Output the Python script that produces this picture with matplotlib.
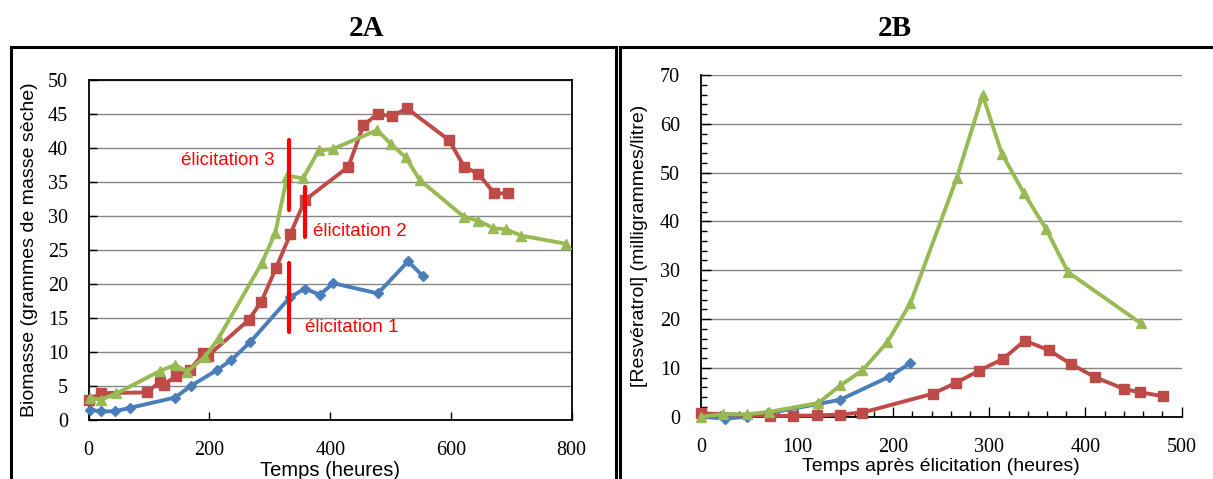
import matplotlib
matplotlib.use("Agg")
import matplotlib.pyplot as plt
from matplotlib import font_manager
from matplotlib.lines import Line2D
from matplotlib.ticker import MultipleLocator

# ---------------- data ----------------
# 2A : biomass (g dry mass) vs time (h)
a_blue_t = [2, 21, 44, 69, 143, 169, 212, 236, 267, 333, 358, 383, 405, 479, 529, 553]
a_blue_v = [1.5, 1.25, 1.3, 1.8, 3.3, 5.0, 7.3, 8.8, 11.4, 18.0, 19.3, 18.4, 20.1, 18.6, 23.3, 21.2]

a_red_t = [0, 21, 96, 118, 124, 144, 168, 190, 197, 265, 286, 310, 334, 358, 430, 455, 479, 502, 527, 597, 622, 645, 672, 694]
a_red_v = [3.0, 3.95, 4.05, 5.6, 5.2, 6.4, 7.4, 9.8, 9.4, 14.7, 17.4, 22.3, 27.3, 32.3, 37.2, 43.3, 45.0, 44.6, 45.8, 41.1, 37.2, 36.2, 33.3, 33.3]

a_green_t = [2, 21, 46, 118, 143, 163, 193, 215, 287, 309, 329, 355, 381, 404, 478, 500, 525, 548, 622, 645, 670, 692, 716, 790]
a_green_v = [3.2, 3.0, 3.9, 7.2, 8.1, 7.1, 9.3, 12.0, 23.1, 27.5, 35.9, 35.5, 39.6, 39.8, 42.6, 40.6, 38.6, 35.3, 29.8, 29.3, 28.2, 28.0, 27.1, 25.9]

elic_t = [332, 358, 332]
elic_lo = [30.9, 26.9, 13.0]
elic_hi = [41.2, 34.3, 23.0]
elic_labels = ["élicitation 3", "élicitation 2", "élicitation 1"]

# 2B : resveratrol (mg/L) vs time after elicitation (h)
b_blue_t = [0, 25, 48, 70, 122, 145, 196, 218]
b_blue_v = [0.0, -0.4, 0.0, 0.7, 2.6, 3.5, 8.2, 11.0]

b_red_t = [0, 72, 96, 121, 145, 168, 241, 265, 289, 314, 337, 362, 385, 410, 440, 457, 481]
b_red_v = [0.7, 0.15, 0.2, 0.25, 0.45, 0.85, 4.7, 6.9, 9.4, 11.8, 15.6, 13.6, 10.8, 8.1, 5.7, 5.0, 4.2]

b_green_t = [0, 23, 48, 71, 122, 145, 168, 194, 218, 266, 293, 313, 336, 359, 382, 458]
b_green_v = [0.0, 0.5, 0.5, 1.0, 2.8, 6.4, 9.5, 15.3, 23.3, 48.8, 65.9, 53.9, 45.8, 38.5, 29.6, 19.1]

# ---------------- style ----------------
BLUE = "#4A7EBB"
RED = "#BE4B48"
GREEN = "#98B954"
GRID = "#868686"

avail = {f.name for f in font_manager.fontManager.ttflist}
SANS = "Liberation Sans Narrow" if "Liberation Sans Narrow" in avail else "Liberation Sans"
SERIF = "Liberation Serif"
LAB = 14

W, H = 1213, 479
fig = plt.figure(figsize=(W / 100, H / 100), dpi=100)


def px_rect(x0, y0, x1, y1):
    return [x0 / W, 1 - y1 / H, (x1 - x0) / W, (y1 - y0) / H]


def style_axes(ax):
    ax.set_axisbelow(True)
    ax.grid(axis="y", color=GRID, lw=1.0)
    for lab in ax.get_xticklabels() + ax.get_yticklabels():
        lab.set_fontfamily(SERIF)
        lab.set_fontsize(14.5)


def series(ax, t, v, color, marker, ms):
    ax.plot(t, v, color=color, lw=2.8, marker=marker, ms=ms, mfc=color, mec=color,
            clip_on=False, zorder=3, solid_joinstyle="round")


# ---------------- 2A ----------------
ax1 = fig.add_axes(px_rect(88.7, 79.7, 571.7, 420))
series(ax1, a_blue_t, a_blue_v, BLUE, "D", 5)
series(ax1, a_red_t, a_red_v, RED, "s", 7)
series(ax1, a_green_t, a_green_v, GREEN, "^", 7)
ax1.set_xlim(0, 800)
ax1.set_ylim(0, 50)
ax1.xaxis.set_major_locator(MultipleLocator(200))
ax1.yaxis.set_major_locator(MultipleLocator(5))
ax1.tick_params(direction="in", length=6, width=1, pad=15)
for s in ax1.spines.values():
    s.set_linewidth(1.3)
style_axes(ax1)
ax1.set_ylabel("Biomasse (grammes de masse sèche)", family=SANS, fontsize=LAB, labelpad=7)
ax1.set_xlabel("Temps (heures)", family=SANS, fontsize=LAB + 0.5, labelpad=1)

for t, lo, hi in zip(elic_t, elic_lo, elic_hi):
    ax1.plot([t, t], [lo, hi], color="#FF0000", lw=3, solid_capstyle="round", zorder=4)
ax1.text(308, 38.1, elic_labels[0], color="#FF0000", family=SANS, fontsize=13.5,
         ha="right", va="center", zorder=5)
ax1.text(372, 27.7, elic_labels[1], color="#FF0000", family=SANS, fontsize=13.5,
         ha="left", va="center", zorder=5)
ax1.text(358, 13.6, elic_labels[2], color="#FF0000", family=SANS, fontsize=13.5,
         ha="left", va="center", zorder=5)

# ---------------- 2B ----------------
ax2 = fig.add_axes(px_rect(701, 75, 1181.5, 416.7))
series(ax2, b_blue_t, b_blue_v, BLUE, "D", 5)
series(ax2, b_red_t, b_red_v, RED, "s", 7)
series(ax2, b_green_t, b_green_v, GREEN, "^", 7)
ax2.set_xlim(0, 500)
ax2.set_ylim(0, 70)
ax2.xaxis.set_major_locator(MultipleLocator(100))
ax2.xaxis.set_minor_locator(MultipleLocator(20))
ax2.yaxis.set_major_locator(MultipleLocator(10))
ax2.yaxis.set_minor_locator(MultipleLocator(2))
ax2.tick_params(which="major", direction="in", length=7, width=1, pad=15)
ax2.tick_params(which="minor", direction="in", length=4, width=1)
ax2.spines["top"].set_visible(False)
ax2.spines["right"].set_visible(False)
for s in ("left", "bottom"):
    ax2.spines[s].set_linewidth(1.3)
style_axes(ax2)
ax2.set_ylabel("[Resvératrol] (milligrammes/litre)", family=SANS, fontsize=LAB, labelpad=9)
ax2.set_xlabel("Temps après élicitation (heures)", family=SANS, fontsize=LAB, labelpad=1)

# ---------------- titles & frames ----------------
fig.text(367 / W, 1 - 28 / H, "2A", family=SERIF, weight="bold", fontsize=21, ha="center", va="center")
fig.text(895 / W, 1 - 28 / H, "2B", family=SERIF, weight="bold", fontsize=21, ha="center", va="center")


def fline(x0, y0, x1, y1, lw=2.2):
    fig.add_artist(Line2D([x0 / W, x1 / W], [1 - y0 / H, 1 - y1 / H], color="black", lw=lw,
                          transform=fig.transFigure, solid_capstyle="projecting"))


# left panel frame
fline(10.8, 47, 615.5, 47)
fline(10.8, 47, 10.8, 490)
fline(615.5, 47, 615.5, 490)
# right panel frame
fline(619.5, 47, 1213, 47)
fline(619.5, 47, 619.5, 490)

fig.savefig("out.png", dpi=100)
